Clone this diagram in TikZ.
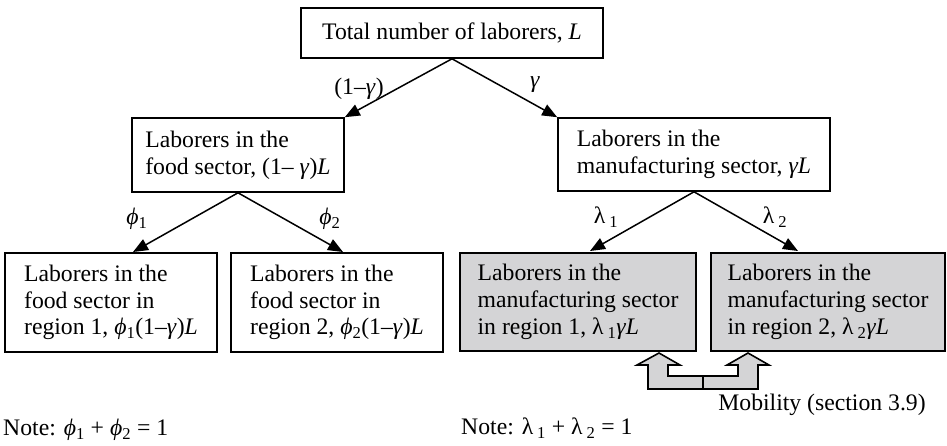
\documentclass[tikz,border=0pt]{standalone}
\usepackage{fontspec}
\setmainfont{Liberation Serif}
\usetikzlibrary{arrows.meta,calc}
\definecolor{boxgray}{HTML}{D4D4D6}
\tikzset{
  plainbox/.style={draw=black, line width=1.6pt, inner sep=0pt, align=left},
  graybox/.style={plainbox, fill=boxgray},
  flow/.style={line width=1.5pt, -{Triangle[length=15pt,width=12pt]}},
  lbl/.style={inner sep=0pt}
}
\newcommand{\ssb}[1]{\textsubscript{#1}}
\begin{document}
\begin{tikzpicture}[x=1pt,y=-1pt,font=\fontsize{23.7}{26.7}\selectfont]
\useasboundingbox (0,0) rectangle (947,445);
% boxes
\node[plainbox, minimum width=302pt, minimum height=50pt] (top) at (452,33) {Total number of laborers, \textit{L}};
\node[plainbox, minimum width=212pt, minimum height=74pt] (ml) at (238,155) {Laborers in the\\food sector, (1– \textit{γ})\textit{L}};
\node[plainbox, minimum width=272pt, minimum height=73pt] (mr) at (694,154.5) {Laborers in the\\manufacturing sector, \textit{γL}};
\node[plainbox, minimum width=212pt, minimum height=99pt] (b1) at (111,302.5) {Laborers in the\\food sector in\\region 1, \textit{ϕ}\ssb{1}(1–\textit{γ})\textit{L}};
\node[plainbox, minimum width=212pt, minimum height=99pt] (b2) at (337,302.5) {Laborers in the\\food sector in\\region 2, \textit{ϕ}\ssb{2}(1–\textit{γ})\textit{L}};
\node[graybox, minimum width=236pt, minimum height=98pt] (b3) at (578,302) {Laborers in the\\manufacturing sector\\in region 1, λ\,\ssb{1}\textit{γL}};
\node[graybox, minimum width=234pt, minimum height=98pt] (b4) at (828,302) {Laborers in the\\manufacturing sector\\in region 2, λ\,\ssb{2}\textit{γL}};
% arrow end points
\coordinate (t1) at (133,252);
\coordinate (t2) at (343,252);
\coordinate (t3) at (590,251);
\coordinate (t4) at (798,251);
% connectors
\draw[flow] (top.south) -- (ml.north east);
\draw[flow] (top.south) -- (mr.north west);
\draw[flow] (ml.south) -- (t1);
\draw[flow] (ml.south) -- (t2);
\draw[flow] (mr.south) -- (t3);
\draw[flow] (mr.south) -- (t4);
% labels
\node[lbl] (l1) at (359,89) {(1–\textit{γ})};
\node[lbl] (l2) at (535,85) {\textit{γ}};
\node[lbl] (l3) at (137,219) {\textit{ϕ}\ssb{1}};
\node[lbl] (l4) at (330,219) {\textit{ϕ}\ssb{2}};
\node[lbl] (l5) at (606,217) {λ\,\ssb{1}};
\node[lbl] (l6) at (775,217) {λ\,\ssb{2}};
% mobility double arrow
\draw[line width=1.6pt, fill=boxgray, line join=miter]
  (648,389) -- (758,389) -- (758,365) -- (769,365) -- (748,353) -- (727,365)
  -- (738,365) -- (738,376) -- (668,376) -- (668,365) -- (680,365)
  -- (659,353) -- (637,365) -- (648,365) -- cycle;
\draw[line width=1.6pt] (703,376) -- (703,389);
\node[lbl] (mob) at (822,405) {Mobility (section 3.9)};
% notes
\node[lbl, anchor=west] (n1) at (3,430) {Note: \textit{ϕ}\ssb{1} + \textit{ϕ}\ssb{2} = 1};
\node[lbl, anchor=west] (n2) at (461,428) {Note: λ\,\ssb{1} + λ\,\ssb{2} = 1};
\end{tikzpicture}
\end{document}
